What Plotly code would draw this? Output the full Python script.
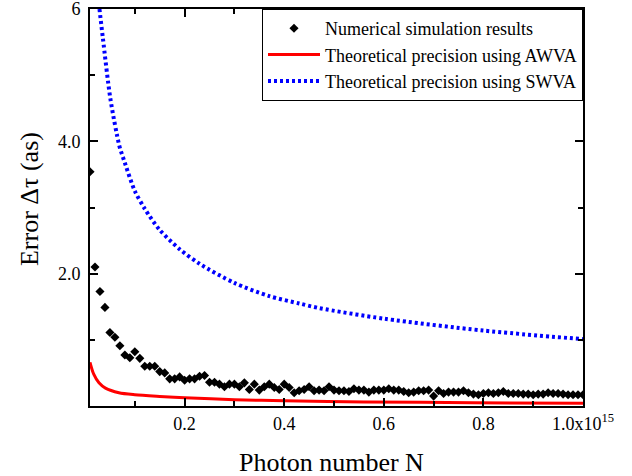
import plotly.graph_objects as go

# ---- data ----
sim_n = [i / 100 * 1e15 for i in range(1, 101)]
sim_err = [
    3.54, 2.10, 1.73, 1.49, 1.11, 1.04, 0.91, 0.77, 0.73, 0.82,
    0.72, 0.60, 0.60, 0.60, 0.52, 0.50, 0.41, 0.41, 0.44, 0.39,
    0.41, 0.41, 0.45, 0.46, 0.36, 0.36, 0.33, 0.29, 0.33, 0.33,
    0.29, 0.35, 0.25, 0.33, 0.24, 0.29, 0.33, 0.28, 0.25, 0.33,
    0.28, 0.20, 0.23, 0.25, 0.29, 0.23, 0.24, 0.23, 0.29, 0.24,
    0.23, 0.23, 0.22, 0.26, 0.24, 0.24, 0.21, 0.24, 0.24, 0.24,
    0.26, 0.24, 0.24, 0.22, 0.20, 0.21, 0.23, 0.23, 0.24, 0.15,
    0.23, 0.19, 0.21, 0.21, 0.21, 0.23, 0.20, 0.18, 0.17, 0.19,
    0.20, 0.19, 0.20, 0.22, 0.19, 0.19, 0.19, 0.18, 0.18, 0.17,
    0.18, 0.18, 0.20, 0.19, 0.19, 0.18, 0.17, 0.17, 0.17, 0.17,
]

awva_n = [0.01e15, 0.0175e15, 0.028e15, 0.041e15, 0.068e15, 0.10e15, 0.15e15,
          0.20e15, 0.30e15, 0.40e15, 0.56e15, 0.78e15, 1.00e15]
awva_err = [0.66, 0.48, 0.35, 0.27, 0.20, 0.17, 0.145, 0.125, 0.095, 0.08,
            0.062, 0.05, 0.04]

swva_n = [0.029e15, 0.036e15, 0.051e15, 0.069e15, 0.078e15, 0.10e15, 0.12e15,
          0.15e15, 0.19e15, 0.23e15, 0.30e15, 0.37e15, 0.43e15, 0.47e15,
          0.60e15, 0.80e15, 1.00e15]
swva_err = [6.0, 5.55, 4.64, 3.93, 3.72, 3.25, 2.98, 2.66, 2.37, 2.15, 1.86,
            1.66, 1.55, 1.48, 1.32, 1.14, 1.01]

x_tick_vals = [0.2e15, 0.4e15, 0.6e15, 0.8e15, 1.0e15]
x_tick_text = ["0.2", "0.4", "0.6", "0.8", "1.0x10<sup>15</sup>"]
x_minor_vals = [0.1e15, 0.3e15, 0.5e15, 0.7e15, 0.9e15]
y_tick_vals = [2, 4, 6]
y_tick_text = ["2.0", "4.0", "6"]
y_minor_vals = [1, 3, 5]

x_title = "Photon number N"
y_title = "Error \u0394\u03c4 (as)"

FONT = "Liberation Serif"

fig = go.Figure()
fig.add_trace(go.Scatter(
    x=sim_n, y=sim_err, mode="markers",
    name="Numerical simulation results",
    marker=dict(symbol="diamond", size=7, color="black"),
))
fig.add_trace(go.Scatter(
    x=awva_n, y=awva_err, mode="lines",
    name="Theoretical precision using AWVA",
    line=dict(color="#ff0000", width=3, shape="spline", smoothing=0.8),
))
fig.add_trace(go.Scatter(
    x=swva_n, y=swva_err, mode="lines",
    name="Theoretical precision using SWVA",
    line=dict(color="#0000ff", width=4, dash="3px,3px", shape="spline", smoothing=0.8),
))

axis_common = dict(
    showline=True, linecolor="black", linewidth=2, mirror="ticks",
    ticks="inside", ticklen=8, tickwidth=1.5, tickcolor="black",
    showgrid=False, zeroline=False, automargin=False,
    ticklabeloverflow="allow",
    tickfont=dict(family=FONT, size=18, color="black"),
)

fig.update_xaxes(
    range=[0.01e15, 1.0e15], tickmode="array",
    tickvals=x_tick_vals, ticktext=x_tick_text,
    ticklabelstandoff=0,
    minor=dict(tickmode="array", tickvals=x_minor_vals, ticks="inside",
               ticklen=5, tickwidth=1.5, tickcolor="black", showgrid=False),
    **axis_common,
)
fig.update_yaxes(
    range=[0, 6], tickmode="array",
    tickvals=y_tick_vals, ticktext=y_tick_text,
    ticklabelstandoff=4,
    minor=dict(tickmode="array", tickvals=y_minor_vals, ticks="inside",
               ticklen=5, tickwidth=1.5, tickcolor="black", showgrid=False),
    **axis_common,
)

fig.add_annotation(
    text=x_title, xref="paper", yref="paper", x=0.49, y=0,
    xanchor="center", yanchor="top", yshift=-40, showarrow=False,
    font=dict(family=FONT, size=26, color="black"),
)
fig.add_annotation(
    text=y_title, xref="paper", yref="paper", x=0, y=0.52,
    xanchor="right", yanchor="middle", xshift=-44, showarrow=False,
    textangle=-90,
    font=dict(family=FONT, size=26, color="black"),
)

fig.update_layout(
    width=632, height=476,
    margin=dict(l=90, r=49, t=9, b=70),
    paper_bgcolor="white", plot_bgcolor="white",
    font=dict(family=FONT, color="black"),
    showlegend=True,
    legend=dict(
        x=1, y=1, xanchor="right", yanchor="top",
        bgcolor="white", bordercolor="black", borderwidth=1,
        font=dict(family=FONT, size=18, color="black"),
        itemwidth=52, tracegroupgap=0,
    ),
)

fig.write_html("out.html", post_script="document.body.style.margin='0';",
               config={"displayModeBar": False})
